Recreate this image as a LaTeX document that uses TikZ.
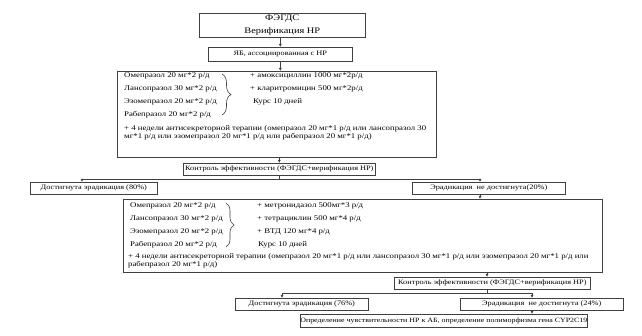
\documentclass[tikz,border=0pt]{standalone}
\usepackage{graphicx}
\usepackage{fontspec}
\setmainfont{Liberation Serif}[FakeStretch=1.22]
\usetikzlibrary{arrows.meta,decorations.pathreplacing}
\begin{document}
\begin{tikzpicture}[x=1pt,y=-1pt,
  box/.style={draw=black!75,line width=0.6pt,inner sep=0pt,anchor=north west,align=center},
  txt/.style={anchor=west,inner sep=0pt,font=\fontsize{7.2}{8}\selectfont},
  sm/.style={font=\fontsize{6.8}{7.5}\selectfont},
  arr/.style={-{Latex[length=3pt,width=3pt]},line width=0.6pt,draw=black!75},
  ln/.style={line width=0.6pt,draw=black!75},
  brc/.style={decorate,decoration={brace,amplitude=#1,aspect=0.5},line width=0.6pt,draw=black!75}]
\useasboundingbox[fill=white] (0,0) rectangle (642,336);

% boxes
\node[box,minimum width=166,minimum height=24,font=\fontsize{8.5}{9}\selectfont] (fegds) at (199,13) {ФЭГДС\\[4pt]Верификация НР};
\node[box,sm,minimum width=144,minimum height=14] (yab) at (208,47) {ЯБ, ассоциированная с НР};
\node[box,minimum width=319,minimum height=86] (r1) at (117,71) {};
\node[box,sm,minimum width=192,minimum height=12] (c1) at (183,163) {Контроль эффективности (ФЭГДС+верификация НР)};
\node[box,sm,minimum width=127,minimum height=12] (e80) at (30,182) {Достигнута эрадикация (80\%)};
\node[box,sm,minimum width=153,minimum height=12] (n20) at (412,182) {Эрадикация \ не достигнута(20\%)};
\node[box,minimum width=479,minimum height=73] (r2) at (123,199) {};
\node[box,sm,minimum width=196,minimum height=12] (c2) at (394,277) {Контроль эффективности (ФЭГДС+верификация НР)};
\node[box,sm,minimum width=133,minimum height=12] (e76) at (235,298) {Достигнута эрадикация (76\%)};
\node[box,sm,minimum width=163,minimum height=12] (n24) at (460,298) {Эрадикация \ не достигнута (24\%)};
\node[box,minimum width=268,minimum height=13,font=\fontsize{6.5}{7.5}\selectfont] (fin) at (300,314) {Определение чувствительности НР к АБ, определение полиморфизма гена CYP2C19};

% regimen 1 text
\node[txt] (a1) at (124,76) {Омепразол 20 мг*2 р/д};
\node[txt] (a2) at (124,89) {Лансопразол 30 мг*2 р/д};
\node[txt] (a3) at (124,102) {Эзомепразол 20 мг*2 р/д};
\node[txt] (a4) at (124,115) {Рабепразол 20 мг*2 р/д};
\coordinate (b1t) at (222,74);
\coordinate (b1b) at (222,115);
\draw[brc=9pt] (b1t) -- (b1b);
\node[txt] (a5) at (250,76) {+ амоксициллин 1000 мг*2р/д};
\node[txt] (a6) at (250,89) {+ кларитромицин 500 мг*2р/д};
\node[txt] (a7) at (253,102) {Курс 10 дней};
\node[txt] (a8) at (124,129) {+ 4 недели антисекреторной терапии (омепразол 20 мг*1 р/д или лансопразол 30};
\node[txt] (a9) at (124,137) {мг*1 р/д или эзомепразол 20 мг*1 р/д или рабепразол 20 мг*1 р/д)};

% regimen 2 text
\node[txt] (d1) at (130,206) {Омепразол 20 мг*2 р/д};
\node[txt] (d2) at (130,219) {Лансопразол 30 мг*2 р/д};
\node[txt] (d3) at (130,232) {Эзомепразол 20 мг*2 р/д};
\node[txt] (d4) at (130,245) {Рабепразол 20 мг*2 р/д};
\coordinate (b2t) at (226,203);
\coordinate (b2b) at (226,247);
\draw[brc=8pt] (b2t) -- (b2b);
\node[txt] (d5) at (257,206) {+ метронидазол 500мг*3 р/д};
\node[txt] (d6) at (257,219) {+ тетрациклин 500 мг*4 р/д};
\node[txt] (d7) at (257,232) {+ ВТД 120 мг*4 р/д};
\node[txt] (d8) at (258,245) {Курс 10 дней};
\node[txt] (d9) at (128,257) {+ 4 недели антисекреторной терапии (омепразол 20 мг*1 р/д или лансопразол 30 мг*1 р/д или эзомепразол 20 мг*1 р/д или};
\node[txt] (d10) at (128,264.5) {рабепразол 20 мг*1 р/д)};

% connectors
\draw[arr] (yab.north |- fegds.south) -- (yab.north);
\draw[arr] (yab.south) -- (yab.south |- r1.north);
\draw[arr] (c1.north |- r1.south) -- (c1.north);
\coordinate (h1l) at (82,179);
\coordinate (h1r) at (480,179);
\draw[ln] (c1.south) -- (c1.south |- h1l);
\draw[ln] (h1l) -- (h1r);
\draw[arr] (h1l) -- (h1l |- e80.north);
\draw[arr] (h1r) -- (h1r |- n20.north);
\draw[arr] (h1r |- n20.south) -- (h1r |- r2.north);
\coordinate (v2) at (487,293);
\draw[arr] (v2 |- r2.south) -- (v2 |- c2.north);
\coordinate (h2l) at (282,293);
\coordinate (h2r) at (532,293);
\draw[ln] (v2 |- c2.south) -- (v2);
\draw[ln] (h2l) -- (h2r);
\draw[arr] (h2l) -- (h2l |- e76.north);
\draw[arr] (h2r) -- (h2r |- n24.north);
\draw[arr] (h2r |- n24.south) -- (h2r |- fin.north);
\end{tikzpicture}
\end{document}
